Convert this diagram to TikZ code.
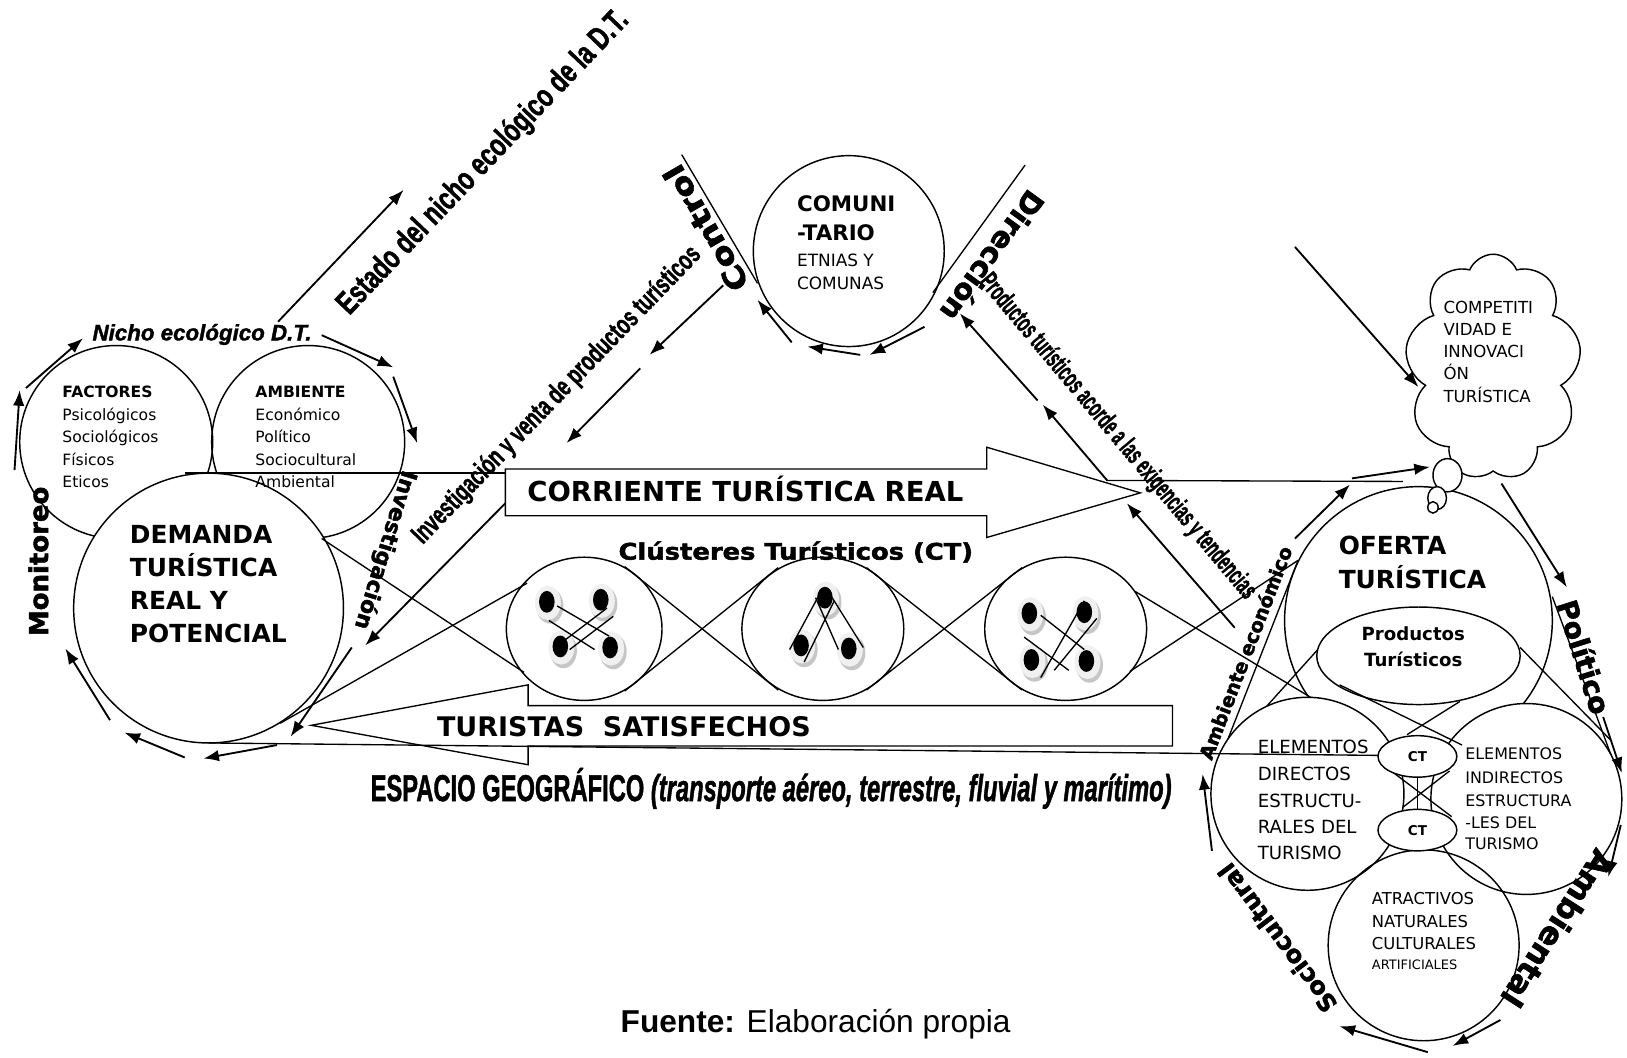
\documentclass[tikz,border=0pt]{standalone}
\usepackage{fontspec}
\setmainfont{DejaVu Sans}
\newfontfamily\arial{Liberation Sans}
\newfontfamily\arialhv{Liberation Sans}[FakeBold=1.6]
\newfontfamily\blk{DejaVu Sans}[FakeBold=2]
\usetikzlibrary{arrows.meta,shapes.geometric,shapes.symbols}
\newcommand\fsz[1]{\fontsize{#1}{#1}\selectfont}
\begin{document}
\begin{tikzpicture}[x=1pt,y=-1pt,
  ln/.style={line width=1.3pt},
  arr/.style={line width=1.8pt,-{Latex[length=15pt,width=11pt]}},
  ring/.style={draw,line width=1.4pt,inner sep=0pt},
  txt/.style={inner sep=0pt,anchor=base west},
  ctxt/.style={inner sep=0pt,anchor=base},
  rot/.style={inner sep=0pt},
  heavy/.style={inner sep=0pt},
  cdot/.pic={
    \fill[gray!45] (2,3) ellipse [x radius=13pt,y radius=17pt];
    \fill[gray!12] (0,0) ellipse [x radius=12.5pt,y radius=16.5pt];
    \fill[black] (-1,-1) ellipse [x radius=7.5pt,y radius=10.5pt];
  }
]
\useasboundingbox (0,0) rectangle (1568,1019);

% ---------------- left group ----------------
\node[ring,circle,minimum size=186pt] (fac) at (112,426) {};
\node[ring,circle,minimum size=186pt] (amb) at (297,426) {};
\node[ring,circle,fill=white,minimum size=260pt] (dem) at (201,586) {};

\draw[ln] (178,456) -- (487,456);
\draw[ln] (310,519) -- (505,648);
\draw[ln] (270,697) -- (508,562);

\draw[arr] (14,453) -- (19,376);
\draw[arr] (25,374) -- (80,326);
\draw[arr] (310,323) -- (379,354);
\draw[arr] (379,363) -- (402,427);
\draw[arr] (339,624) -- (280,710);
\draw[arr] (267,718) -- (196,731);
\draw[arr] (178,730) -- (120,706);
\draw[arr] (106,694) -- (63,625);
\draw[arr] (268,310) -- (389,183);

% ---------------- big arrows ----------------
\draw[ln] (487,452) -- (951,452) -- (951,431) -- (1099,475) -- (951,518) -- (951,497) -- (487,497) -- cycle;
\draw[ln] (1130,680) -- (509,680) -- (509,660) -- (300,699) -- (509,737) -- (509,719) -- (1130,719) -- cycle;

% control chain
\draw[arr] (697,275) -- (626,342);
\draw[arr] (617,355) -- (546,427);
\draw[arr] (487,485) -- (352,622);

% ---------------- comunitario ----------------
\node[ring,circle,minimum size=184pt] (com) at (818,242) {};
\draw[ln] (657,149) -- (730,273);
\draw[ln] (988,159) -- (899,282);
\draw[arr] (891,315) -- (838,342);
\draw[arr] (829,342) -- (778,334);
\draw[arr] (763,330) -- (730,289);

% productos acorde arrows
\draw[arr] (1067,463) -- (1005,390);
\draw[arr] (1000,386) -- (925,302);
\draw[arr] (1190,605) -- (1086,485);
\draw[ln] (1067,463) -- (1352,464);

% ---------------- clusters ----------------
\node[ring,ellipse,minimum width=150pt,minimum height=138pt] (c1) at (563,606) {};
\node[ring,ellipse,minimum width=156pt,minimum height=138pt] (c2) at (793,606) {};
\node[ring,ellipse,minimum width=156pt,minimum height=138pt] (c3) at (1027,606) {};
\draw[ln] (602,546) -- (750,665);
\draw[ln] (602,666) -- (750,547);
\draw[ln] (835,547) -- (985,665);
\draw[ln] (835,665) -- (985,547);
\draw[ln] (1089,647) -- (1251,540);
\draw[ln] (1094,570) -- (1263,672);

\foreach \p in {(528,581),(580,579),(541,624),(589,625),
                (796,577),(773,623),(819,626),
                (993,592),(1046,591),(995,637),(1048,638)}
  \pic at \p {cdot};
\draw[ln] (537,584) -- (587,613);
\draw[ln] (529,598) -- (573,626);
\draw[ln] (539,621) -- (585,586);
\draw[ln] (549,626) -- (591,594);
\draw[ln] (761,626) -- (788,576);
\draw[ln] (775,638) -- (804,579);
\draw[ln] (786,576) -- (808,626);
\draw[ln] (802,576) -- (832,624);
\draw[ln] (1003,593) -- (1045,626);
\draw[ln] (987,614) -- (1030,646);
\draw[ln] (1003,653) -- (1045,579);
\draw[ln] (1016,646) -- (1057,596);

% ---------------- cloud ----------------
\node[ring,cloud,cloud puffs=9,cloud puff arc=135,cloud ignores aspect,
      minimum width=170pt,minimum height=218pt] (cld) at (1439,354) {};
\draw[arr] (1248,238) -- (1367,373);

% ---------------- oferta group ----------------
\node[ring,circle,minimum size=258pt] (ofe) at (1367,598) {};
\node[ring,ellipse,minimum width=196pt,minimum height=94pt] (prod) at (1367,632) {};
\node[ring,ellipse,fill=white,minimum width=28pt,minimum height=32pt] (b1) at (1395,458) {};
\node[ring,ellipse,fill=white,minimum width=18pt,minimum height=22pt] (b2) at (1385,480) {};
\node[ring,ellipse,fill=white,minimum width=10pt,minimum height=11pt] (b3) at (1381,489) {};
\draw[arr] (1248,519) -- (1301,467);
\draw[arr] (1303,461) -- (1378,450);

\draw[ln] (1251,540) -- (1169,749);
\draw[ln] (1496,575) -- (1559,745);
\draw[ln] (1270,626) -- (1178,728);
\draw[ln] (1465,624) -- (1552,713);
\node[ring,circle,fill=white,minimum size=186pt] (edir) at (1260,765) {};
\node[ring,circle,fill=white,minimum size=184pt] (eind) at (1471,770) {};
\node[ring,circle,minimum size=184pt] (atr) at (1372,911) {};
\draw[ln] (1338,741) -- (1399,787);
\draw[ln] (1352,778) -- (1397,743);
\draw[ln] (1366,745) -- (1366,785);
\draw[ln] (201,716) -- (1328,728);
\node[ring,ellipse,fill=white,minimum width=76pt,minimum height=40pt,font=\fsz{13}\bfseries] (ct1) at (1366,729) {CT};
\node[ring,ellipse,fill=white,minimum width=76pt,minimum height=40pt,font=\fsz{13}\bfseries] (ct2) at (1366,800) {CT};
\draw[ln] (1291,660) -- (1409,718);
\draw[ln] (1407,676) -- (1356,708);

\draw[arr] (1447,466) -- (1510,566);
\draw[arr] (1545,691) -- (1563,745);
\draw[arr] (1562,795) -- (1550,845);
\draw[arr] (1446,983) -- (1400,1008);
\draw[arr] (1376,1014) -- (1291,989);
\draw[arr] (1168,820) -- (1159,746);

% ---------------- texts ----------------
\node[txt,font=\fsz{15}\bfseries] (fa1) at (60,383) {FACTORES};
\node[txt,font=\fsz{15}] (fa2) at (60,405.5) {Psicológicos};
\node[txt,font=\fsz{15}] (fa3) at (60,426.5) {Sociológicos};
\node[txt,font=\fsz{15}] (fa4) at (60,448.5) {Físicos};
\node[txt,font=\fsz{15}] (fa5) at (60,469.5) {Eticos};
\node[txt,font=\fsz{15}\bfseries] (am1) at (246,383) {AMBIENTE};
\node[txt,font=\fsz{15}] (am2) at (246,405.5) {Económico};
\node[txt,font=\fsz{15}] (am3) at (246,426.5) {Político};
\node[txt,font=\fsz{15}] (am4) at (246,448.5) {Sociocultural};
\node[txt,font=\fsz{15}] (am5) at (246,469.5) {Ambiental};

\node[txt,font=\fsz{24}\bfseries] (de1) at (125,523.5) {DEMANDA};
\node[txt,font=\fsz{24}\bfseries] (de2) at (125,555.5) {TURÍSTICA};
\node[txt,font=\fsz{24}\bfseries] (de3) at (125,587.5) {REAL Y};
\node[txt,font=\fsz{24}\bfseries] (de4) at (125,619.5) {POTENCIAL};

\node[txt,font=\arialhv\fsz{21.5}\bfseries\itshape] (nicho) at (89,328) {Nicho ecológico D.T.};

\node[rot,rotate=46.4] (estado) at (466,157) {\scalebox{0.72}[1]{\arialhv\fsz{31}\bfseries Estado del nicho ecológico de la D.T.}};
\node[rot,rotate=46] (invven) at (537,381) {\scalebox{0.68}[1]{\arialhv\fsz{26.5}\bfseries Investigación y venta de productos turísticos}};
\node[rot,rotate=-50] (prodac) at (1077,421) {\scalebox{0.56}[1]{\arialhv\fsz{26}\bfseries Productos turísticos acorde a las exigencias y tendencias}};

\node[heavy,rotate=90,font=\blk\fsz{25}\bfseries] (mon) at (37,541) {Monitoreo};
\node[heavy,rotate=-107,font=\blk\fsz{21}\bfseries] (inv) at (371,530) {Investigación};
\node[heavy,rotate=120,font=\blk\fsz{28}\bfseries] (ctrl) at (680,220) {\scalebox{1.17}[1]{Control}};
\node[heavy,rotate=-126,font=\blk\fsz{28}\bfseries] (dir) at (957,247) {Dirección};
\node[heavy,rotate=-72.5,font=\blk\fsz{27}\bfseries] (pol) at (1527,633) {Político};
\node[heavy,rotate=-122.7,font=\blk\fsz{30}\bfseries] (ambt) at (1501,895) {Ambiental};
\node[heavy,rotate=127,font=\blk\fsz{23.4}\bfseries] (soc) at (1231,904) {Sociocultural};
\node[heavy,rotate=69,font=\blk\fsz{18.5}\bfseries] (ambe) at (1200,629) {Ambiente económico};
\node[heavy,font=\blk\fsz{22}\bfseries] (clt) at (767,532) {\scalebox{1.13}[1]{Clústeres Turísticos (CT)}};

\node[txt,font=\fsz{20.6}\bfseries] (co1) at (768,204) {COMUNI};
\node[txt,font=\fsz{20.6}\bfseries] (co2) at (768,232) {-TARIO};
\node[txt,font=\fsz{16.3}] (co3) at (768,257) {ETNIAS Y};
\node[txt,font=\fsz{16.3}] (co4) at (768,279) {COMUNAS};

\node[txt,font=\fsz{26.5}\bfseries] (corr) at (508,483.5) {CORRIENTE TURÍSTICA REAL};
\node[txt,font=\fsz{26}\bfseries] (turs) at (421,709.5) {TURISTAS\ \ SATISFECHOS};

\node[txt] (esp) at (357,772) {\scalebox{0.635}[1]{\arialhv\fsz{36}\bfseries ESPACIO GEOGRÁFICO \itshape(transporte aéreo, terrestre, fluvial y marítimo)}};

\node[txt,font=\fsz{16}] (cl1) at (1391,302) {COMPETITI};
\node[txt,font=\fsz{16}] (cl2) at (1391,323) {VIDAD E};
\node[txt,font=\fsz{16}] (cl3) at (1391,345) {INNOVACI};
\node[txt,font=\fsz{16}] (cl4) at (1391,366) {ÓN};
\node[txt,font=\fsz{16}] (cl5) at (1391,388) {TURÍSTICA};

\node[txt,font=\fsz{24}\bfseries] (of1) at (1290,534) {OFERTA};
\node[txt,font=\fsz{24}\bfseries] (of2) at (1290,567) {TURÍSTICA};
\node[ctxt,font=\fsz{17.5}\bfseries] (pr1) at (1362,617) {Productos};
\node[ctxt,font=\fsz{17.5}\bfseries] (pr2) at (1362,642) {Turísticos};

\node[txt,font=\fsz{17.5}] (ed1) at (1212,726) {ELEMENTOS};
\node[txt,font=\fsz{17.5}] (ed2) at (1212,752) {DIRECTOS};
\node[txt,font=\fsz{17.5}] (ed3) at (1212,778) {ESTRUCTU-};
\node[txt,font=\fsz{17.5}] (ed4) at (1212,803) {RALES DEL};
\node[txt,font=\fsz{17.5}] (ed5) at (1212,828) {TURISMO};

\node[txt,font=\fsz{15.3}] (ei1) at (1412,732) {ELEMENTOS};
\node[txt,font=\fsz{15.3}] (ei2) at (1412,755) {INDIRECTOS};
\node[txt,font=\fsz{15.3}] (ei3) at (1412,777) {ESTRUCTURA};
\node[txt,font=\fsz{15.3}] (ei4) at (1412,798) {-LES DEL};
\node[txt,font=\fsz{15.3}] (ei5) at (1412,819) {TURISMO};

\node[txt,font=\fsz{15.8}] (at1) at (1322,872) {ATRACTIVOS};
\node[txt,font=\fsz{15.8}] (at2) at (1322,894) {NATURALES};
\node[txt,font=\fsz{15.8}] (at3) at (1322,915) {CULTURALES};
\node[txt,font=\fsz{12.5}] (at4) at (1322,934.5) {ARTIFICIALES};

\node[txt,font=\arial\fsz{30.5}] (fue) at (598,995) {\textbf{Fuente:} Elaboración propia};
\end{tikzpicture}
\end{document}
